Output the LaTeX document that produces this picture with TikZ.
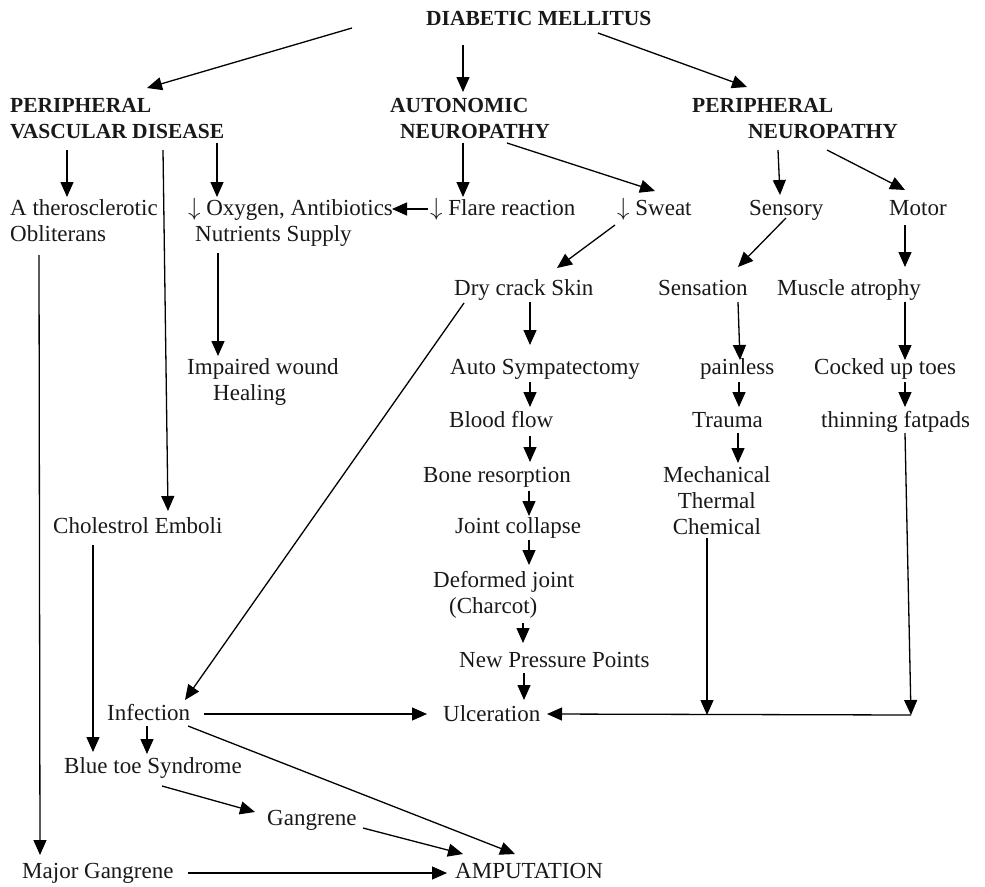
\documentclass[tikz,border=0pt]{standalone}
\usepackage{fontspec}
\setmainfont{Liberation Serif}
\usetikzlibrary{arrows.meta}
\newcommand\mlL[2]{\vtop{\hbox{#1}\hbox{#2}}}
\newcommand\mlC[1]{\vtop{\halign{\hfil##\hfil\cr#1\crcr}}}
\tikzset{
  txt/.style={anchor=base west, inner sep=0pt, text=black!90, font=\fontsize{23}{26}\selectfont},
  hd/.style={txt, font=\fontsize{21.5}{26}\selectfont\bfseries},
  arr/.style={line width=1.3pt, -{Triangle[length=15pt,width=13pt]}}
}
\begin{document}
\begin{tikzpicture}[x=1pt,y=-1pt]
\useasboundingbox[fill=white] (0,0) rectangle (985,886);
% headings
\node[hd] (dm) at (426,25) {DIABETIC MELLITUS};
\node[hd] (pvd) at (10,112) {\mlL{PERIPHERAL}{VASCULAR DISEASE}};
\node[hd] (an) at (390,112) {\mlL{AUTONOMIC}{\kern10pt NEUROPATHY}};
\node[hd] (pn) at (692,112) {\mlL{PERIPHERAL}{\kern56pt NEUROPATHY}};
% second row
\node[txt] (ath) at (10,215) {\mlL{A therosclerotic}{Obliterans}};
\node[txt] (oxy) at (188,215) {\mlL{$\downarrow$ Oxygen, Antibiotics}{\kern7pt Nutrients Supply}};
\node[txt] (flare) at (430,215) {$\downarrow$ Flare reaction};
\node[txt] (sweat) at (617,215) {$\downarrow$ Sweat};
\node[txt] (sensory) at (749,215) {Sensory};
\node[txt] (motor) at (889,215) {Motor};
% third row
\node[txt] (dry) at (454,295) {Dry crack Skin};
\node[txt] (sensation) at (658,295) {Sensation};
\node[txt] (muscle) at (777,295) {Muscle atrophy};
\node[txt] (impaired) at (187,374) {\mlL{Impaired wound}{\kern26pt Healing}};
\node[txt] (auto) at (450,374) {Auto Sympatectomy};
\node[txt] (painless) at (700,374) {painless};
\node[txt] (cocked) at (814,374) {Cocked up toes};
\node[txt] (blood) at (449,427) {Blood flow};
\node[txt] (trauma) at (692,427) {Trauma};
\node[txt] (thinning) at (821,427) {thinning fatpads};
\node[txt] (bone) at (423,482) {Bone resorption};
\node[txt] (mech) at (663,482) {\mlC{Mechanical\cr Thermal\cr Chemical}};
\node[txt] (chol) at (53,533) {Cholestrol Emboli};
\node[txt] (joint) at (455,533) {Joint collapse};
\node[txt] (deformed) at (433,587) {\mlL{Deformed joint}{\kern16pt(Charcot)}};
\node[txt] (npp) at (459,667) {New Pressure Points};
\node[txt] (ulc) at (443,721) {Ulceration};
\node[txt] (inf) at (107,720) {Infection};
\node[txt] (blue) at (64,773) {Blue toe Syndrome};
\node[txt] (gang) at (267,825) {Gangrene};
\node[txt] (major) at (22,878) {Major Gangrene};
\node[txt] (amp) at (455,878) {AMPUTATION};
\coordinate (junc) at (911,715);
\coordinate (chemout) at ([shift={(44,56)}]mech.base west);
% connectors
\draw[arr] ([shift={(-74,3)}]dm.base west) -- ([shift={(137,-24)}]pvd.base west);
\draw[arr] ([shift={(37,20)}]dm.base west) -- ([shift={(73,-20)}]an.base west);
\draw[arr] ([shift={(172,8)}]dm.base west) -- ([shift={(55,-25)}]pn.base west);
\draw[arr] ([shift={(57,38)}]pvd.base west) -- ([shift={(57,-18)}]ath.base west);
\draw[arr] ([shift={(153,38)}]pvd.base west) -- ([shift={(115,-22)}]chol.base west);
\draw[arr] ([shift={(207,31)}]pvd.base west) -- ([shift={(29,-18)}]oxy.base west);
\draw[arr] ([shift={(73,31)}]an.base west) -- ([shift={(33,-18)}]flare.base west);
\draw[arr] ([shift={(117,31)}]an.base west) -- ([shift={(38,-24)}]sweat.base west);
\draw[arr] ([shift={(-2,-6)}]flare.base west) -- ([shift={(204,-6)}]oxy.base west);
\draw[arr] ([shift={(86,38)}]pn.base west) -- ([shift={(31,-20)}]sensory.base west);
\draw[arr] ([shift={(135,38)}]pn.base west) -- ([shift={(16,-25)}]motor.base west);
\draw[arr] ([shift={(-2,10)}]sweat.base west) -- ([shift={(103,-27)}]dry.base west);
\draw[arr] ([shift={(37,3)}]sensory.base west) -- ([shift={(80,-28)}]sensation.base west);
\draw[arr] ([shift={(16,10)}]motor.base west) -- ([shift={(128,-28)}]muscle.base west);
\draw[arr] ([shift={(29,40)}]ath.base west) -- ([shift={(18,-23)}]major.base west);
\draw[arr] ([shift={(30,38)}]oxy.base west) -- ([shift={(31,-18)}]impaired.base west);
\draw[arr] ([shift={(76,7)}]dry.base west) -- ([shift={(80,-29)}]auto.base west);
\draw[arr] ([shift={(10,8)}]dry.base west) -- ([shift={(78,-20)}]inf.base west);
\draw[arr] ([shift={(80,7)}]sensation.base west) -- ([shift={(40,-14)}]painless.base west);
\draw[arr] ([shift={(128,7)}]muscle.base west) -- ([shift={(91,-14)}]cocked.base west);
\draw[arr] ([shift={(80,8)}]auto.base west) -- ([shift={(81,-20)}]blood.base west);
\draw[arr] ([shift={(39,8)}]painless.base west) -- ([shift={(47,-20)}]trauma.base west);
\draw[arr] ([shift={(91,8)}]cocked.base west) -- ([shift={(84,-20)}]thinning.base west);
\draw[arr] ([shift={(81,9)}]blood.base west) -- ([shift={(107,-20)}]bone.base west);
\draw[arr] ([shift={(46,6)}]trauma.base west) -- ([shift={(75,-19)}]mech.base west);
\draw[arr] ([shift={(106,9)}]bone.base west) -- ([shift={(74,-17)}]joint.base west);
\draw[arr] ([shift={(74,7)}]joint.base west) -- ([shift={(96,-22)}]deformed.base west);
\draw[arr] ([shift={(90,36)}]deformed.base west) -- ([shift={(64,-24)}]npp.base west);
\draw[arr] ([shift={(65,6)}]npp.base west) -- ([shift={(81,-21)}]ulc.base west);
\draw[arr] ([shift={(84,6)}]thinning.base west) -- (junc);
\draw[arr] (chemout) -- (chemout |- junc);
\draw[arr] (junc) -- ([shift={(104,-7)}]ulc.base west);
\draw[arr] ([shift={(40,12)}]chol.base west) -- ([shift={(29,-21)}]blue.base west);
\draw[arr] ([shift={(40,6)}]inf.base west) -- ([shift={(83,-19)}]blue.base west);
\draw[arr] ([shift={(97,-6)}]inf.base west) -- ([shift={(-16,-7)}]ulc.base west);
\draw[arr] ([shift={(81,6)}]inf.base west) -- ([shift={(60,-24)}]amp.base west);
\draw[arr] ([shift={(98,13)}]blue.base west) -- ([shift={(-12,-13)}]gang.base west);
\draw[arr] ([shift={(96,3)}]gang.base west) -- ([shift={(8,-24)}]amp.base west);
\draw[arr] ([shift={(166,-5)}]major.base west) -- ([shift={(-8,-5)}]amp.base west);
\end{tikzpicture}
\end{document}
